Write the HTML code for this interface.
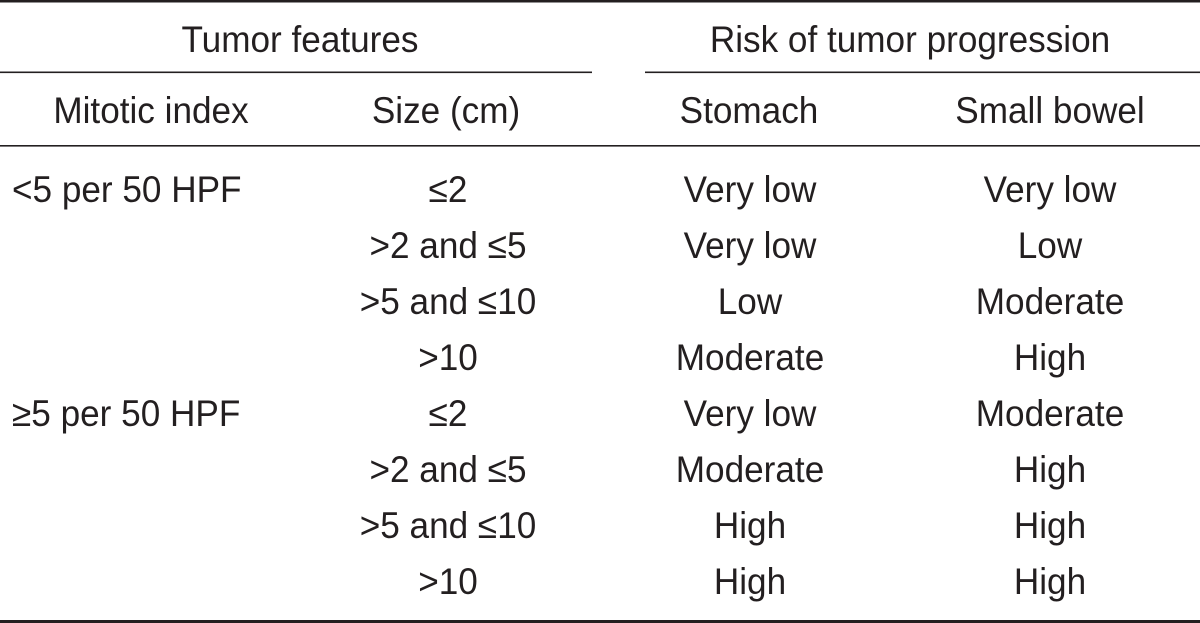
<!DOCTYPE html>
<html><head><meta charset="utf-8"><style>
html,body{margin:0;padding:0;background:#fff;}
svg{display:block;}
text{font-family:"Liberation Sans",sans-serif;font-size:37px;fill:#231f20;}
</style></head><body>
<svg width="1200" height="623" viewBox="0 0 1200 623">
<rect x="0" y="0" width="1200" height="2.5" fill="#231f20"/>
<rect x="0" y="71.5" width="592" height="1.6" fill="#231f20"/>
<rect x="645" y="71.5" width="555" height="1.6" fill="#231f20"/>
<rect x="0" y="145" width="1200" height="1.6" fill="#231f20"/>
<rect x="0" y="620" width="1200" height="3" fill="#231f20"/>
<g id="cells"></g>
</svg>
<script>
const headers=[["Tumor features",300,52],["Risk of tumor progression",910,52],["Mitotic index",151,123],["Size (cm)",446,123],["Stomach",749,123],["Small bowel",1050,123]];
const mitotic=["<5 per 50 HPF","","","","≥5 per 50 HPF","","",""];
const sizes=["≤2",">2 and ≤5",">5 and ≤10",">10","≤2",">2 and ≤5",">5 and ≤10",">10"];
const stomach=["Very low","Very low","Low","Moderate","Very low","Moderate","High","High"];
const bowel=["Very low","Low","Moderate","High","Moderate","High","High","High"];
const g=document.getElementById('cells');
const NS="http://www.w3.org/2000/svg";
function add(txt,x,y,anchor,name){
  const t=document.createElementNS(NS,'text');
  t.setAttribute('transform','translate('+x+','+y+') scale(0.95,1)');
  t.setAttribute('text-anchor',anchor);
  t.textContent=txt;
  
  
  g.appendChild(t);
}
headers.forEach(h=>add(h[0],h[1],h[2],'middle','column-header'));
for(let i=0;i<sizes.length;i++){
  const y=202+i*56;
  if(mitotic[i]) add(mitotic[i],12,y,'start','mitotic-index-cell');
  add(sizes[i],448,y,'middle','size-cell');
  add(stomach[i],750,y,'middle','stomach-risk-cell');
  add(bowel[i],1050,y,'middle','small-bowel-risk-cell');
}
</script>
</body></html>
